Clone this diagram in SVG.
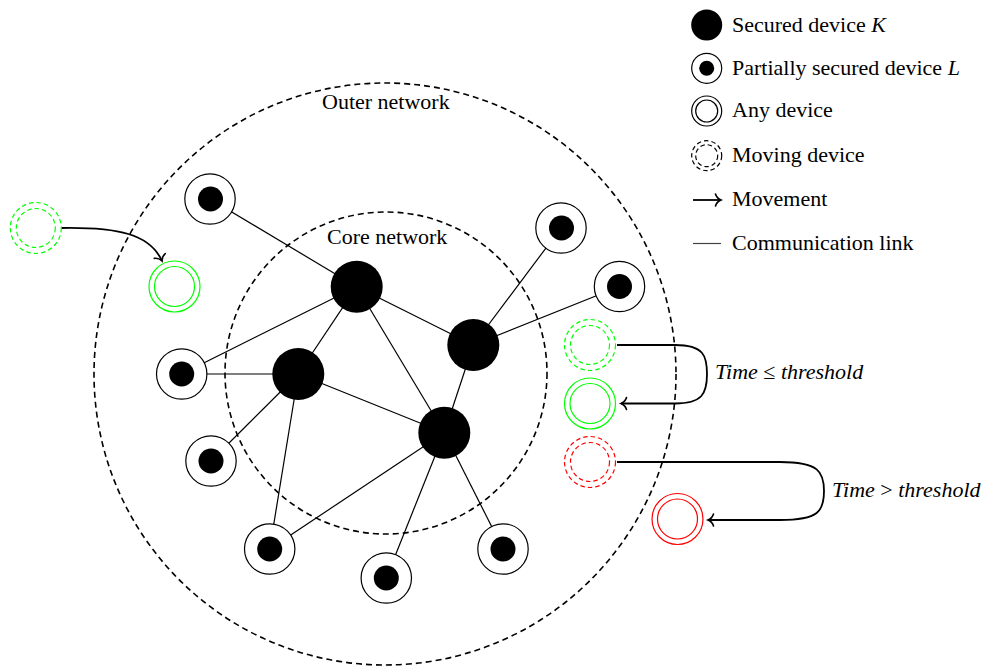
<svg xmlns="http://www.w3.org/2000/svg" width="984" height="666" viewBox="0 0 984 666" font-family="'Liberation Serif', 'DejaVu Serif', serif">
<style>
  text { font-family: "Liberation Serif", "DejaVu Serif", serif; font-size: 22px; fill: #000; }
  .it { font-style: italic; }
  .zone { fill: none; stroke: #000; stroke-width: 1.6; stroke-dasharray: 6 4; }
  .link { stroke: #000; stroke-width: 1.2; fill: none; }
  .sec { fill: #000; }
  .pout { fill: #fff; stroke: #000; stroke-width: 1.2; }
  .pin { fill: #000; }
  .mv { fill: none; stroke-width: 1.2; stroke-dasharray: 4.5 3; }
  .any { fill: none; stroke-width: 1.2; }
  .arrow { fill: none; stroke: #000; stroke-width: 1.8; marker-end: url(#tip); }
</style>
<defs>
  <marker id="tip" markerUnits="userSpaceOnUse" viewBox="-8 -8 10 16" refX="0" refY="0" markerWidth="10" markerHeight="16" orient="auto" overflow="visible">
    <path d="M -5.5 -6 C -4.5 -2.5 -1.5 -0.6 0 0 C -1.5 0.6 -4.5 2.5 -5.5 6" fill="none" stroke="#000" stroke-width="1.6" stroke-linecap="round"/>
  </marker>
</defs>
<rect width="984" height="666" fill="#fff"/>

<g id="zones">
  <circle class="zone" cx="385" cy="374" r="291"/>
  <circle class="zone" cx="386" cy="373" r="161"/>
  <text x="322" y="109">Outer network</text>
  <text x="327" y="243.5">Core network</text>
</g>

<g id="connectors">
  <line class="link" x1="210" y1="199" x2="356.7" y2="286.7"/>
  <line class="link" x1="181.7" y1="374" x2="356.7" y2="286.7"/>
  <line class="link" x1="181.7" y1="374" x2="298.3" y2="374"/>
  <line class="link" x1="356.7" y1="286.7" x2="298.3" y2="374"/>
  <line class="link" x1="356.7" y1="286.7" x2="473.3" y2="345"/>
  <line class="link" x1="356.7" y1="286.7" x2="444.3" y2="432.7"/>
  <line class="link" x1="298.3" y1="374" x2="444.3" y2="432.7"/>
  <line class="link" x1="473.3" y1="345" x2="444.3" y2="432.7"/>
  <line class="link" x1="561" y1="228" x2="473.3" y2="345"/>
  <line class="link" x1="619.5" y1="286.5" x2="473.3" y2="345"/>
  <line class="link" x1="298.3" y1="374" x2="211" y2="461"/>
  <line class="link" x1="298.3" y1="374" x2="269.7" y2="549"/>
  <line class="link" x1="444.3" y1="432.7" x2="269.7" y2="549"/>
  <line class="link" x1="444.3" y1="432.7" x2="386.3" y2="578"/>
  <line class="link" x1="444.3" y1="432.7" x2="503" y2="549"/>
  <path class="arrow" d="M 61 228 C 118 227, 150 234, 162 261"/>
  <path class="arrow" d="M 617 345 L 675 345 C 704 345, 707 356, 707 374 C 707 394, 702 403.5, 675 403.5 L 621 403.5"/>
  <path class="arrow" d="M 617 462 L 780 462 C 819 462, 824 472, 824 491 C 824 511, 819 520, 780 520 L 708 520"/>
</g>

<g id="secured-A"><circle class="sec" cx="356.7" cy="286.7" r="26"/></g>
<g id="secured-B"><circle class="sec" cx="298.3" cy="374" r="26"/></g>
<g id="secured-C"><circle class="sec" cx="473.3" cy="345" r="26"/></g>
<g id="secured-D"><circle class="sec" cx="444.3" cy="432.7" r="26"/></g>

<g id="partial-1"><circle class="pout" cx="210" cy="199" r="25.2"/><circle class="pin" cx="210.5" cy="199" r="12.5"/></g>
<g id="partial-2"><circle class="pout" cx="561" cy="228" r="25.2"/><circle class="pin" cx="561.5" cy="228" r="12.5"/></g>
<g id="partial-3"><circle class="pout" cx="619.5" cy="286.5" r="25.2"/><circle class="pin" cx="619.5" cy="286.5" r="12.5"/></g>
<g id="partial-4"><circle class="pout" cx="181.7" cy="374" r="25.2"/><circle class="pin" cx="181.7" cy="374" r="12.5"/></g>
<g id="partial-5"><circle class="pout" cx="211" cy="461" r="25.2"/><circle class="pin" cx="211" cy="461" r="12.5"/></g>
<g id="partial-6"><circle class="pout" cx="269.7" cy="549" r="25.2"/><circle class="pin" cx="269.7" cy="549" r="12.5"/></g>
<g id="partial-7"><circle class="pout" cx="386.3" cy="578" r="25.2"/><circle class="pin" cx="386.3" cy="578" r="12.5"/></g>
<g id="partial-8"><circle class="pout" cx="503" cy="549" r="25.2"/><circle class="pin" cx="503" cy="549" r="12.5"/></g>

<g id="moving-left" stroke="#00ff00"><circle class="mv" cx="35.8" cy="228" r="25.5"/><circle class="mv" cx="35.8" cy="228" r="19.5"/></g>
<g id="any-green-left" stroke="#00ff00"><circle class="any" cx="174.5" cy="286.5" r="25.5"/><circle class="any" cx="174.5" cy="286.5" r="20"/></g>
<g id="moving-green-right" stroke="#00ff00"><circle class="mv" cx="590" cy="345" r="25.5"/><circle class="mv" cx="590" cy="345" r="19.5"/></g>
<g id="any-green-right" stroke="#00ff00"><circle class="any" cx="590" cy="403.5" r="25.5"/><circle class="any" cx="590" cy="403.5" r="20"/></g>
<g id="moving-red" stroke="#ff0000"><circle class="mv" cx="590" cy="462" r="25.5"/><circle class="mv" cx="590" cy="462" r="19.5"/></g>
<g id="any-red" stroke="#ff0000"><circle class="any" cx="677.5" cy="519" r="25.5"/><circle class="any" cx="677.5" cy="519" r="20"/></g>

<g id="label-le"><text x="715" y="379"><tspan class="it">Time</tspan> ≤ <tspan class="it">threshold</tspan></text></g>
<g id="label-gt"><text x="832" y="497"><tspan class="it">Time</tspan> &gt; <tspan class="it">threshold</tspan></text></g>

<g id="legend">
  <circle class="sec" cx="706.7" cy="25" r="15.5"/>
  <text x="732" y="32">Secured device <tspan class="it">K</tspan></text>
  <circle class="pout" cx="706.7" cy="68.3" r="15"/><circle class="pin" cx="706.7" cy="68.3" r="7.5"/>
  <text x="732" y="75">Partially secured device <tspan class="it">L</tspan></text>
  <circle class="any" stroke="#000" cx="706.7" cy="111" r="15"/><circle class="any" stroke="#000" cx="706.7" cy="111" r="11"/>
  <text x="732" y="117">Any device</text>
  <circle class="mv" stroke="#000" cx="706.7" cy="155.7" r="15" stroke-dasharray="4 2.5"/><circle class="mv" stroke="#000" cx="706.7" cy="155.7" r="11" stroke-dasharray="4 2.5"/>
  <text x="732" y="162">Moving device</text>
  <path class="arrow" d="M 693 200 L 721 200"/>
  <text x="732" y="206">Movement</text>
  <line x1="693" y1="243.5" x2="721" y2="243.5" stroke="#444" stroke-width="1.2"/>
  <text x="732" y="250">Communication link</text>
</g>
</svg>
